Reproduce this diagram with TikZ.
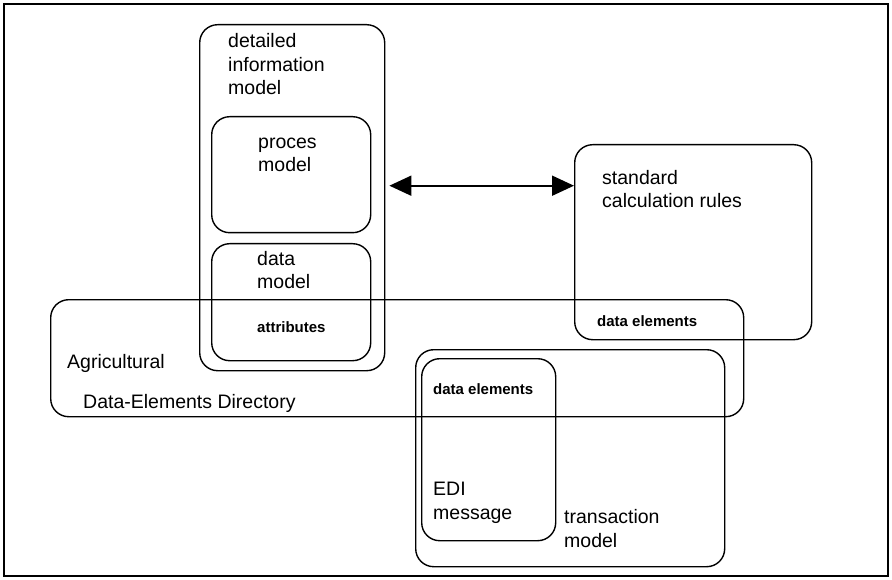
\documentclass[tikz,border=0pt]{standalone}
\usepackage{fontspec}
\setmainfont{Liberation Sans}
\usetikzlibrary{arrows.meta}
\begin{document}
\begin{tikzpicture}[x=1pt,y=-1pt,
    box/.style={draw, line width=1.4pt, rounded corners=18pt, anchor=north west, inner sep=0pt},
    lbl/.style={anchor=base west, inner sep=0pt, align=left, font=\fontsize{19.5}{23.5}\selectfont},
    small/.style={anchor=base west, inner sep=0pt, font=\fontsize{15}{17}\selectfont\bfseries},
    link/.style={line width=1.8pt, {Triangle[length=22pt,width=20pt]}-{Triangle[length=22pt,width=20pt]}}]

% canvas and frame, in pixel coordinates
\useasboundingbox (0,0) rectangle (892,580);
\draw[line width=2.5pt] (4,4) rectangle (888,576);

% detailed information model with its two parts
\node[box, minimum width=185pt, minimum height=346pt] (dim) at (199,24) {};
\node[box, minimum width=159pt, minimum height=116pt] (proc) at (211,116) {};
\node[box, minimum width=159pt, minimum height=117pt] (datam) at (211,243) {};

% multi-line texts are placed at the baseline of their last line
\node[lbl] (dimtxt) at (228,95) {detailed\\information\\model};
\node[lbl] (proctxt) at (258,172) {proces\\model};
\node[lbl] (datamtxt) at (257,289) {data\\model};
\node[small] (attr) at (257,332) {attributes};

% directory
\node[box, minimum width=693pt, minimum height=117pt] (agri) at (50,299) {};
\node[lbl] (agritxt) at (67,368) {Agricultural};
\node[lbl] (dirtxt) at (83,408) {Data-Elements Directory};

% calculation rules
\node[box, minimum width=237pt, minimum height=195pt] (calc) at (574,144) {};
\node[lbl] (calctxt) at (602,208) {standard\\calculation rules};
\node[small] (calcel) at (597,326) {data elements};

% transaction model with EDI message
\node[box, minimum width=309pt, minimum height=217pt] (trans) at (415,349) {};
\node[box, minimum width=134pt, minimum height=182pt] (edi) at (421,358) {};
\node[small] (ediel) at (433,394) {data elements};
\node[lbl] (editxt) at (433,519) {EDI\\message};
\node[lbl] (transtxt) at (564,547) {transaction\\model};

% link between the two models
\coordinate (linkL) at ([shift={(4pt,12pt)}]dim.east);
\draw[link] (linkL) -- (linkL -| calc.west);

\end{tikzpicture}
\end{document}
